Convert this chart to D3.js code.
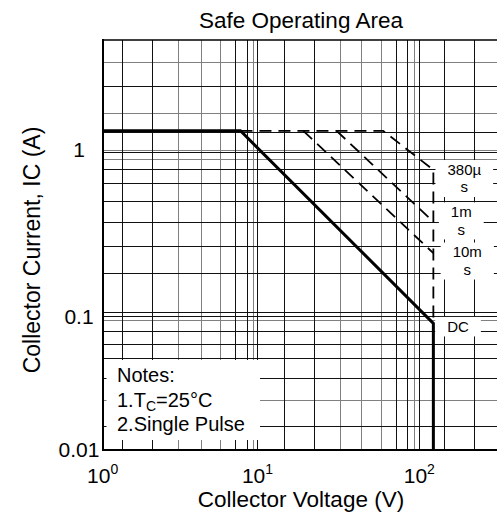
<!DOCTYPE html>
<html><head><meta charset="utf-8">
<script src="https://cdn.jsdelivr.net/npm/d3@7"></script>
<style>body{margin:0;background:#fff} text{font-family:"Liberation Sans",Arial,sans-serif;fill:#000}</style>
</head><body><svg id="c" width="497" height="514"></svg>
<script>
const title = "Safe Operating Area";
const xLabel = "Collector Voltage (V)";
const yLabel = "Collector Current, IC (A)";
const xTickValues = [1, 10, 100];
const xTickExponents = ["0", "1", "2"];
const yTickValues = [0.01, 0.1, 1];
const yTickLabels = ["0.01", "0.1", "1"];
const xGridDark = [1.34, 2.11, 7.23, 8.58, 10, 14.6, 22.4, 72.1, 85.1, 100, 142, 218];
const xGridLight = [3.11, 4.35, 5.78, 9.46, 32.5, 43.9, 58.3, 93.5];
const yGridDark = [0.0151, 0.0346, 0.0486, 0.0612, 0.0769, 0.1, 0.1057, 0.18, 0.2626, 0.366, 0.4892, 0.6293, 0.7586, 0.963, 1.262, 2.38];
const yGridLight = [0.0233, 0.093, 0.879, 1.0, 1.636, 3.32];
// DC limit (solid)
const dcVoltage = [1, 7.76, 122, 122];
const dcCurrent = [1.3, 1.3, 0.0889, 0.01];
// pulsed limits (dashed)
const p380Voltage = [7.76, 59.8, 122, 122];
const p380Current = [1.3, 1.3, 0.76, 0.0889];
const p1msVoltage = [30.8, 122];
const p1msCurrent = [1.3, 0.371];
const p10msVoltage = [19.2, 122];
const p10msCurrent = [1.3, 0.24];
const curveLabels = [["380µ", "s"], ["1m", "s"], ["10m", "s"], ["DC"]];
const curveLabelV = [189, 181, 197, 173];
const curveLabelI = [0.674, 0.375, 0.2154, 0.0839];
const noteLines = ["Notes:", "1.T|C|=25°C", "2.Single Pulse"];

const svg = d3.select("#c");
const x = d3.scaleLog().domain([1, 10, 100, 300]).range([102.7, 257.5, 419.3, 497]);
const y = d3.scaleLog().domain([0.01, 0.1, 1, 4.5]).range([450, 316.5, 150, 40]);
const L = 103, R = 497, T = 40, B = 450;

svg.append("rect").attr("width", 497).attr("height", 514).attr("fill", "#fff");

const grid = svg.append("g").attr("shape-rendering", "crispEdges");
function vlines(vals, color) {
  grid.selectAll(null).data(vals).enter().append("line")
    .attr("x1", d => x(d)).attr("x2", d => x(d)).attr("y1", T).attr("y2", B)
    .attr("stroke", color).attr("stroke-width", 1);
}
function hlines(vals, color) {
  grid.selectAll(null).data(vals).enter().append("line")
    .attr("y1", d => y(d)).attr("y2", d => y(d)).attr("x1", L).attr("x2", R)
    .attr("stroke", color).attr("stroke-width", 1);
}
vlines(xGridLight, "#808080");
hlines(yGridLight, "#808080");
vlines(xGridDark, "#111");
hlines(yGridDark, "#111");

// notes box
svg.append("rect").attr("x", L + 3.5).attr("y", B - 90).attr("width", 153.5).attr("height", 80).attr("fill", "#fff");
const nt = svg.append("g");
noteLines.forEach((s, i) => {
  const t = nt.append("text").attr("x", L + 14).attr("y", 382 + i * 24.5).attr("font-size", 20);
  const parts = s.split("|");
  if (parts.length === 3) {
    t.append("tspan").text(parts[0]);
    t.append("tspan").attr("font-size", 14).attr("dy", 4).text(parts[1]);
    t.append("tspan").attr("dy", -4).text(parts[2]);
  } else t.text(s);
});

// curve label boxes
const lh = 17.5;
curveLabels.forEach((lines, i) => {
  const cx = x(curveLabelV[i]), cy = y(curveLabelI[i]);
  const g = svg.append("g");
  const h = lines.length * lh;
  const texts = lines.map((s, j) => g.append("text").attr("x", cx).attr("y", cy - h / 2 + lh * j + lh / 2 + 5)
    .attr("text-anchor", "middle").attr("font-size", 15).text(s));
  const w = d3.max(texts, t => t.node().getComputedTextLength()) + 24;
  g.insert("rect", "text").attr("x", cx - w / 2).attr("y", cy - h / 2 - 1).attr("width", w).attr("height", h + 2).attr("fill", "#fff");
});

// axes frame
svg.append("line").attr("x1", L).attr("x2", L).attr("y1", T - 1).attr("y2", B + 1).attr("stroke", "#000").attr("stroke-width", 2);
svg.append("line").attr("x1", L).attr("x2", R).attr("y1", B).attr("y2", B).attr("stroke", "#000").attr("stroke-width", 2);
svg.append("line").attr("x1", L).attr("x2", R).attr("y1", T).attr("y2", T).attr("stroke", "#000").attr("stroke-width", 1.7);

// curves
const line = d3.line().x(d => x(d[0])).y(d => y(d[1]));
function curve(vs, is, dashed) {
  svg.append("path").attr("d", line(d3.zip(vs, is))).attr("fill", "none").attr("stroke", "#000")
    .attr("stroke-width", dashed ? 1.8 : 3).attr("stroke-dasharray", dashed ? "12,7" : null);
}
curve(p380Voltage, p380Current, true);
curve(p1msVoltage, p1msCurrent, true);
curve(p10msVoltage, p10msCurrent, true);
curve(dcVoltage, dcCurrent, false);

// tick labels
xTickValues.forEach((v, i) => {
  const t = svg.append("text").attr("x", x(v)).attr("y", 482.5).attr("text-anchor", "middle").attr("font-size", 21);
  t.append("tspan").text("10");
  t.append("tspan").attr("font-size", 14).attr("dy", -9).text(xTickExponents[i]);
});
yTickValues.forEach((v, i) => {
  svg.append("text").attr("x", 79).attr("y", y(v)).attr("dy", "0.35em").attr("text-anchor", "middle")
    .attr("font-size", 21).text(yTickLabels[i]);
});

svg.append("text").attr("x", 301).attr("y", 28).attr("text-anchor", "middle").attr("font-size", 22.5).text(title);
svg.append("text").attr("x", 301).attr("y", 506.5).attr("text-anchor", "middle").attr("font-size", 22.5).text(xLabel);
svg.append("text").attr("transform", "translate(40,250) rotate(-90)").attr("text-anchor", "middle").attr("font-size", 23).text(yLabel);
</script></body></html>
